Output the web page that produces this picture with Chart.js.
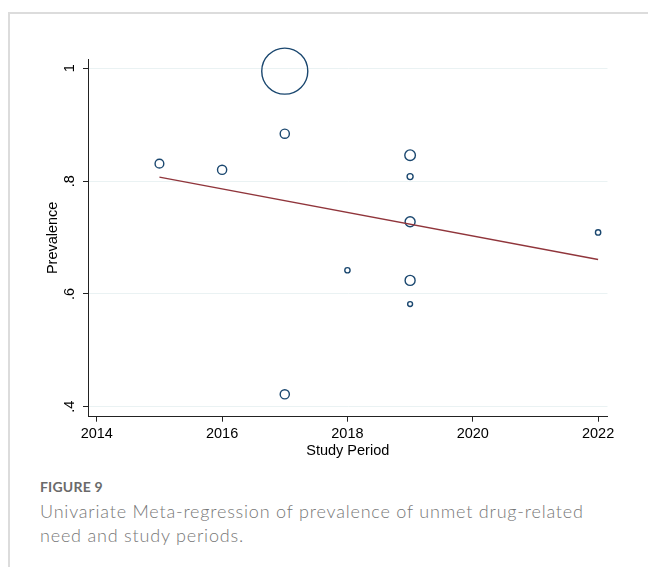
<!DOCTYPE html>
<html>
<head>
<meta charset="utf-8">
<script src="https://cdn.jsdelivr.net/npm/chart.js@4.4.1/dist/chart.umd.min.js"></script>
<style>
  html, body { margin: 0; padding: 0; background: #fff; }
  body { width: 648px; height: 567px; position: relative; overflow: hidden; }
  .card { position: absolute; left: 8px; top: 12px; right: -4px; bottom: -4px;
          border-top: 2px solid #dcdcdc; border-left: 2px solid #dcdcdc; }
  #plot { position: absolute; left: 0; top: 0; }
  .fig-label { position: absolute; left: 40px; top: 478px; font-family: Lato, "Open Sans", sans-serif;
               font-weight: 700; font-size: 14px; color: #6a6a6a; letter-spacing: 0.2px; }
  .fig-caption { position: absolute; left: 40px; top: 499px; font-family: Lato, "Open Sans", sans-serif;
                 font-weight: 300; font-size: 18px; line-height: 24px; color: #777; letter-spacing: 0.8px; }
</style>
</head>
<body>
<div class="card"></div>
<canvas id="plot" width="648" height="470"></canvas>
<div class="fig-label">FIGURE 9</div>
<div class="fig-caption">Univariate Meta-regression of prevalence of unmet drug-related<br>need and study periods.</div>
<script>
// Study-level estimates: year of study, observed prevalence, meta-analytic weight
const studyYear   = [2015, 2016, 2017, 2017, 2017, 2018, 2019, 2019, 2019, 2019, 2019, 2022];
const prevalence  = [0.831, 0.820, 0.995, 0.884, 0.422, 0.642, 0.846, 0.808, 0.728, 0.624, 0.582, 0.709];
const studyWeight = [19, 21, 530, 21, 21, 7, 28, 9, 25, 25, 6, 7];

// Fitted meta-regression line
const fitYear       = [2015, 2022];
const fitPrevalence = [0.807, 0.661];

// Axis ticks
const xTicks = [2014, 2016, 2018, 2020, 2022];
const yTicks = [0.4, 0.6, 0.8, 1];

const navy = '#1a476f';
const maroon = '#90353b';
const axisFont = { family: '"Liberation Sans", Arial, sans-serif', size: 14.5 };

const bubbles = studyYear.map((yr, i) => ({ x: yr, y: prevalence[i], r: Math.sqrt(studyWeight[i]) }));
const fitLine = fitYear.map((yr, i) => ({ x: yr, y: fitPrevalence[i] }));

new Chart(document.getElementById('plot'), {
  type: 'bubble',
  data: {
    datasets: [
      {
        type: 'bubble',
        data: bubbles,
        backgroundColor: 'rgba(0,0,0,0)',
        borderColor: navy,
        borderWidth: 1.4,
        hoverBorderWidth: 1.4,
        clip: false,
        order: 2
      },
      {
        type: 'line',
        data: fitLine,
        borderColor: maroon,
        borderWidth: 1.3,
        pointRadius: 0,
        fill: false,
        tension: 0,
        clip: false,
        order: 1
      }
    ]
  },
  options: {
    responsive: false,
    animation: false,
    events: [],
    layout: { padding: { left: 0, top: 59, right: 40.5, bottom: 0 } },
    plugins: { legend: { display: false }, tooltip: { enabled: false } },
    scales: {
      x: {
        type: 'linear',
        min: 2013.86,
        max: 2022.15,
        afterBuildTicks: s => { s.ticks = xTicks.map(v => ({ value: v })); },
        afterFit: s => { s.height = 53.3; },
        grid: { drawOnChartArea: false, color: '#000', tickColor: '#222', tickLength: 5, lineWidth: 1 },
        border: { display: true, color: '#222', width: 1 },
        ticks: { color: '#000', font: axisFont, padding: 3.5, maxRotation: 0, autoSkip: false,
                 callback: v => String(v) },
        title: { display: true, text: 'Study Period', color: '#000', font: axisFont,
                 padding: { top: 0, bottom: 10.5 } }
      },
      y: {
        type: 'linear',
        min: 0.3823,
        max: 1.0165,
        afterBuildTicks: s => { s.ticks = yTicks.map(v => ({ value: v })); },
        afterFit: s => { s.width = 88; },
        grid: { color: '#eaf2f3', tickColor: '#222', tickLength: 5, lineWidth: 1 },
        border: { display: true, color: '#222', width: 1 },
        ticks: { color: '#000', font: axisFont, padding: 7, minRotation: 90, maxRotation: 90,
                 crossAlign: 'center', autoSkip: false,
                 callback: v => (v === 1 ? '1' : String(v).replace(/^0/, '')) },
        title: { display: true, text: 'Prevalence', color: '#000', font: axisFont,
                 padding: { top: 44.6, bottom: 0 } }
      }
    }
  }
});
</script>
</body>
</html>
